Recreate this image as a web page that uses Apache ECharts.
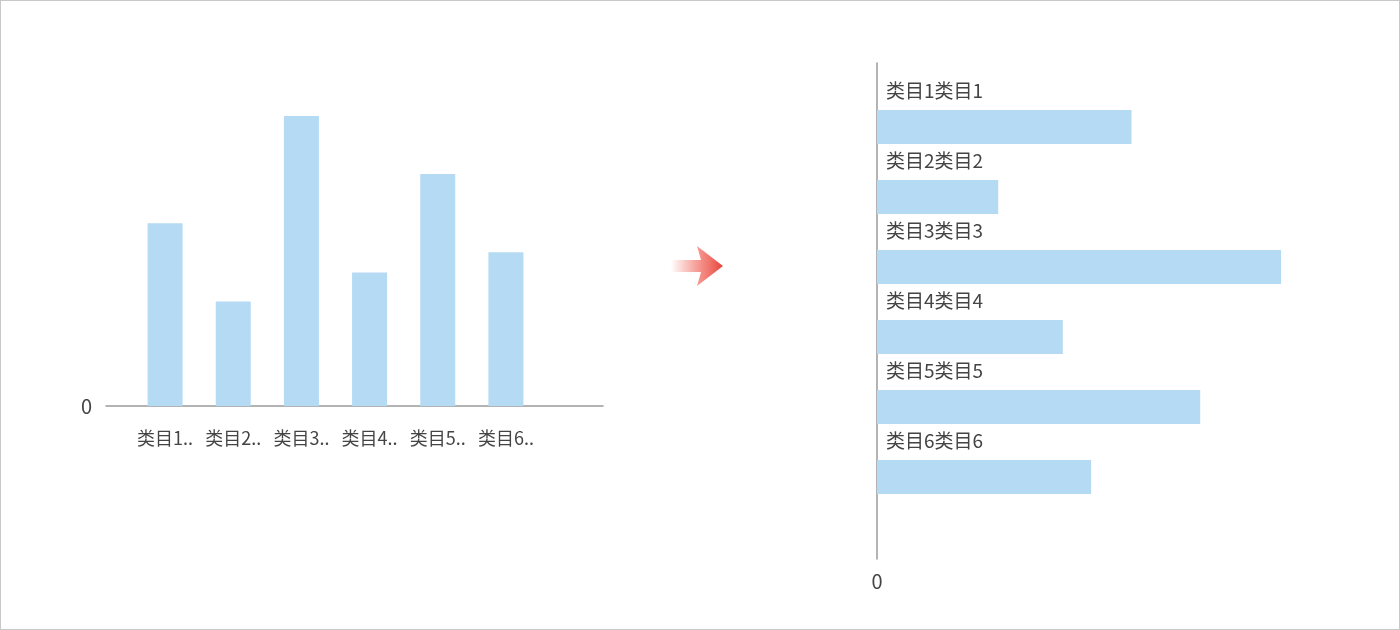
<!DOCTYPE html>
<html>
<head>
<meta charset="utf-8">
<script src="https://cdn.jsdelivr.net/npm/echarts@6/dist/echarts.min.js"></script>
<style>
  html, body { margin: 0; padding: 0; background: #fff; }
  #main { width: 1400px; height: 630px; box-sizing: border-box; border: 1px solid #c8c8c8; }
</style>
</head>
<body>
<div id="main"></div>
<script>
// 数据
var categories = ['类目1类目1', '类目2类目2', '类目3类目3', '类目4类目4', '类目5类目5', '类目6类目6'];
var columnValues = [63, 36, 100, 46, 80, 53];
var rowValues = [63, 30, 100, 46, 80, 53];
var zeroTick = [0];

var barColor = '#b5daf3';
var axisColor = '#9a9a9a';
var textColor = '#444';
var font = '"Noto Sans CJK SC", "Noto Sans", sans-serif';

var chart = echarts.init(document.getElementById('main'));

var option = {
  animation: false,
  textStyle: { fontFamily: font },
  grid: [
    // 左图: 柱子
    { left: 130, right: 859, top: 115, bottom: 223 },
    // 左图: 坐标轴
    { left: 105, right: 796, top: 115, bottom: 223 },
    // 右图: 条形
    { left: 876, right: 118, top: 91, bottom: 117 },
    // 右图: 坐标轴
    { left: 876, right: 118, top: 62, bottom: 70 }
  ],
  xAxis: [
    {
      gridIndex: 0, type: 'category', data: categories,
      axisLine: { show: false }, axisTick: { show: false },
      axisLabel: {
        interval: 0, hideOverlap: false,
        margin: 23, fontSize: 18, color: textColor, fontFamily: font,
        formatter: function (v) { return v.slice(0, 3) + '..'; }
      }
    },
    {
      gridIndex: 1, type: 'value', min: 0, max: 1,
      axisLine: { show: true, lineStyle: { color: axisColor, width: 1.5 } },
      axisTick: { show: false }, axisLabel: { show: false }, splitLine: { show: false }
    },
    {
      gridIndex: 2, type: 'value', min: 0, max: 100,
      axisLine: { show: false }, axisTick: { show: false },
      axisLabel: { show: false }, splitLine: { show: false }
    },
    {
      gridIndex: 3, type: 'value', min: 0, max: 100, interval: 100,
      axisLine: { show: false }, axisTick: { show: false }, splitLine: { show: false },
      axisLabel: {
        margin: 12, fontSize: 20, color: textColor, fontFamily: font,
        formatter: function (v) { return zeroTick.indexOf(v) > -1 ? String(v) : ''; }
      }
    }
  ],
  yAxis: [
    {
      gridIndex: 0, type: 'value', min: 0, max: 100,
      axisLine: { show: false }, axisTick: { show: false },
      axisLabel: { show: false }, splitLine: { show: false }
    },
    {
      gridIndex: 1, type: 'value', min: 0, max: 100, interval: 100,
      axisLine: { show: false }, axisTick: { show: false }, splitLine: { show: false },
      axisLabel: {
        margin: 14, fontSize: 20, color: textColor, fontFamily: font,
        formatter: function (v) { return zeroTick.indexOf(v) > -1 ? String(v) : ''; }
      }
    },
    {
      gridIndex: 2, type: 'category', data: categories, inverse: true,
      axisLine: { show: false }, axisTick: { show: false }, axisLabel: { show: false }
    },
    {
      gridIndex: 3, type: 'value', min: 0, max: 1,
      axisLine: { show: true, lineStyle: { color: axisColor, width: 1.5 } },
      axisTick: { show: false }, axisLabel: { show: false }, splitLine: { show: false }
    }
  ],
  series: [
    {
      type: 'bar', xAxisIndex: 0, yAxisIndex: 0,
      data: columnValues, barWidth: 35,
      itemStyle: { color: barColor }
    },
    {
      type: 'bar', xAxisIndex: 2, yAxisIndex: 2,
      data: rowValues, barWidth: 34,
      itemStyle: { color: barColor },
      label: {
        show: true, formatter: '{b}',
        position: [9, -19], align: 'left', verticalAlign: 'middle',
        fontSize: 19, color: textColor, fontFamily: font
      }
    }
  ],
  graphic: [
    {
      type: 'polygon',
      shape: { points: [[670, 259], [700, 259], [696, 245], [722, 265], [696, 285], [700, 271], [670, 271]] },
      style: {
        fill: new echarts.graphic.LinearGradient(0, 0, 1, 0, [
          { offset: 0, color: 'rgba(240,90,80,0)' },
          { offset: 0.6, color: 'rgba(240,100,90,0.75)' },
          { offset: 1, color: '#e6453b' }
        ])
      }
    }
  ]
};

chart.setOption(option);
</script>
</body>
</html>
